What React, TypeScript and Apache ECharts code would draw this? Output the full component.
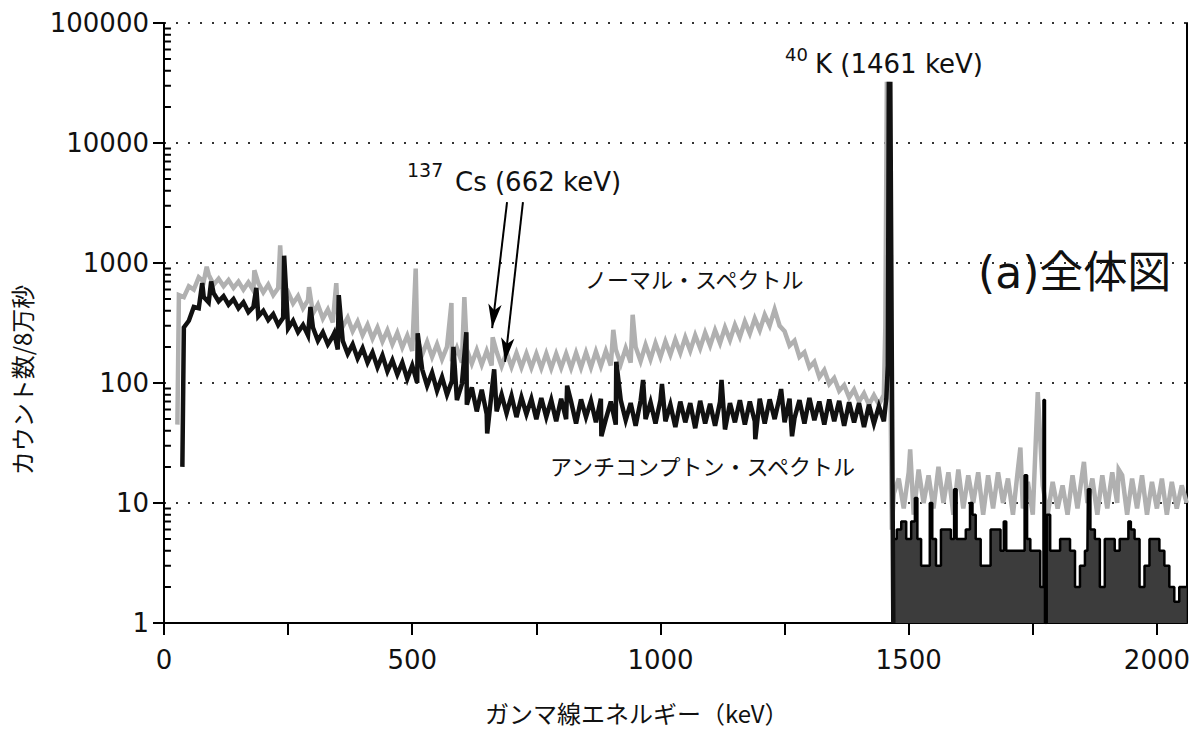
import React, { useEffect, useRef } from "react";
import * as echarts from "echarts";

type P = [number, number];

// ---- Normal spectrum (gray) ----
const normalLow: P[] = [
  [27, 45], [30, 540], [40, 520], [50, 640], [60, 600], [70, 760], [80, 700], [90, 800], [100, 660], [110, 740],
  [120, 640], [130, 720], [140, 620], [150, 700], [160, 600], [170, 690], [180, 590], [190, 680], [200, 570],
  [210, 660], [220, 540], [230, 620], [240, 500], [250, 570], [260, 460], [270, 530], [280, 420], [290, 490],
  [300, 380], [310, 450], [320, 345], [330, 410], [340, 320], [350, 385], [360, 295], [370, 350], [380, 270],
  [390, 325], [400, 250], [410, 305], [420, 235], [430, 290], [440, 222], [450, 275], [460, 210], [470, 262],
  [480, 198], [490, 248], [500, 185], [510, 235], [520, 172], [530, 220], [540, 165], [550, 210], [560, 158],
  [570, 200], [580, 152], [590, 195], [600, 148], [610, 190], [620, 145], [630, 188], [640, 142], [650, 185],
  [660, 140], [670, 182], [680, 138], [690, 180], [700, 136], [710, 178], [720, 135], [730, 176], [740, 134],
  [750, 175], [760, 133], [770, 176], [780, 132], [790, 175], [800, 134], [810, 176], [820, 133], [830, 178],
  [840, 134], [850, 180], [860, 135], [870, 183], [880, 138], [890, 185], [900, 140], [910, 190], [920, 144],
  [930, 195], [940, 148], [950, 200], [960, 152], [970, 208], [980, 158], [990, 215], [1000, 165], [1010, 222],
  [1020, 172], [1030, 230], [1040, 178], [1050, 240], [1060, 186], [1070, 250], [1080, 195], [1090, 262],
  [1100, 205], [1110, 275], [1120, 215], [1130, 290], [1140, 228], [1150, 305], [1160, 242], [1170, 325],
  [1180, 258], [1190, 345], [1200, 275], [1210, 370], [1220, 300], [1230, 410], [1240, 300], [1250, 270],
  [1260, 205], [1270, 225], [1280, 165], [1290, 180], [1300, 135], [1310, 150], [1320, 112], [1330, 128],
  [1340, 98], [1350, 110], [1360, 86], [1370, 96], [1380, 76], [1390, 88], [1400, 70], [1410, 82], [1420, 66],
  [1430, 79], [1440, 66], [1450, 80],
];
const normalPeaks: P[] = [
  [86, 930], [182, 870], [234, 1400], [292, 630], [347, 680], [507, 900], [579, 465], [605, 520], [662, 240],
  [905, 277], [944, 370],
];
const normalK40: P[] = [[1453, 300], [1456, 31000], [1459, 31000], [1462, 400], [1466, 6], [1470, 12]];
const normalHigh: P[] = [
  [1480, 16], [1490, 9], [1500, 18], [1510, 8], [1520, 19], [1530, 10], [1540, 17], [1550, 9], [1560, 20],
  [1570, 10], [1580, 18], [1590, 8], [1600, 19], [1610, 9], [1620, 17], [1630, 10], [1640, 18], [1650, 8],
  [1660, 17], [1670, 9], [1680, 18], [1690, 10], [1700, 16], [1710, 8], [1720, 19], [1730, 9], [1740, 15],
  [1750, 8], [1770, 14], [1780, 8], [1790, 15], [1800, 9], [1810, 14], [1820, 8], [1830, 17], [1840, 9],
  [1850, 18], [1860, 10], [1870, 16], [1880, 8], [1890, 17], [1900, 9], [1910, 18], [1920, 10], [1930, 17],
  [1940, 8], [1950, 16], [1960, 9], [1970, 17], [1980, 8], [1990, 15], [2000, 9], [2010, 16], [2020, 8],
  [2030, 15], [2040, 9], [2050, 14], [2060, 10],
];
const normalHighPeaks: P[] = [[1503, 28], [1725, 29], [1760, 84], [1853, 22], [1923, 19]];

// ---- Anti-Compton spectrum (black) ----
const comptonLow: P[] = [
  [37, 20], [40, 290], [50, 330], [60, 430], [70, 420], [80, 520], [90, 470], [100, 560], [110, 480], [120, 530],
  [130, 450], [140, 500], [150, 420], [160, 470], [170, 390], [180, 430], [190, 360], [200, 400], [210, 335],
  [220, 375], [230, 305], [240, 350], [250, 285], [260, 330], [270, 265], [280, 305], [290, 250], [300, 290],
  [310, 225], [320, 265], [330, 210], [340, 245], [350, 190], [360, 225], [370, 175], [380, 210], [390, 160],
  [400, 195], [410, 148], [420, 180], [430, 135], [440, 170], [450, 125], [460, 155], [470, 118], [480, 148],
  [490, 108], [500, 140], [510, 100], [520, 130], [530, 95], [540, 122], [550, 86], [560, 112], [570, 80],
  [580, 104], [590, 72], [600, 98], [610, 66], [620, 92], [630, 58], [640, 88], [650, 55], [660, 84], [670, 58],
  [680, 80], [690, 56], [700, 78], [710, 52], [720, 76], [730, 55], [740, 74], [750, 50], [760, 75], [770, 52],
  [780, 72], [790, 48], [800, 74], [810, 50], [820, 70], [830, 46], [840, 73], [850, 52], [860, 71], [870, 47],
  [880, 74], [890, 50], [900, 70], [910, 45], [920, 72], [930, 49], [940, 68], [950, 44], [960, 71], [970, 50],
  [980, 69], [990, 46], [1000, 72], [1010, 48], [1020, 66], [1030, 43], [1040, 70], [1050, 47], [1060, 68],
  [1070, 42], [1080, 71], [1090, 46], [1100, 67], [1110, 44], [1120, 70], [1130, 41], [1140, 68], [1150, 47],
  [1160, 72], [1170, 45], [1180, 70], [1190, 48], [1200, 74], [1210, 46], [1220, 73], [1230, 50], [1240, 76],
  [1250, 47], [1260, 74], [1270, 51], [1280, 72], [1290, 46], [1300, 75], [1310, 49], [1320, 70], [1330, 45],
  [1340, 73], [1350, 48], [1360, 71], [1370, 44], [1380, 69], [1390, 47], [1400, 68], [1410, 43], [1420, 66],
  [1430, 46], [1440, 64], [1450, 48],
];
const comptonPeaks: P[] = [
  [77, 680], [95, 700], [186, 620], [242, 1150], [295, 430], [343, 260], [352, 540], [511, 260], [583, 200],
  [609, 265], [665, 130], [812, 95], [911, 150], [965, 106], [1003, 98], [1123, 106], [1243, 89],
];
const comptonDips: P[] = [[651, 38], [881, 36], [1191, 34], [1265, 36]];
const comptonK40: P[] = [[1455, 75], [1458, 140], [1460, 31000], [1463, 31000], [1466, 160], [1469, 1]];
const comptonHigh: P[] = [
  [1472, 5], [1480, 6], [1490, 7], [1500, 5], [1510, 7], [1520, 5], [1530, 3], [1540, 3], [1550, 5], [1560, 3],
  [1570, 6], [1580, 6], [1590, 5], [1600, 5], [1610, 5], [1620, 6], [1630, 8], [1640, 5], [1650, 3], [1660, 3],
  [1670, 6], [1680, 6], [1690, 4], [1700, 4], [1710, 4], [1720, 4], [1730, 4], [1740, 5], [1750, 4], [1760, 4],
  [1770, 2], [1780, 8], [1790, 4], [1800, 4], [1810, 5], [1820, 5], [1830, 4], [1840, 2], [1850, 3], [1860, 4],
  [1870, 6], [1880, 5], [1890, 2], [1900, 5], [1910, 5], [1920, 4], [1930, 5], [1940, 5], [1950, 6], [1960, 5],
  [1970, 2], [1980, 3], [1990, 5], [2000, 5], [2010, 4], [2020, 3], [2030, 2], [2040, 1.5], [2050, 2], [2060, 2],
];
const comptonHighPeaks: P[] = [
  [1515, 11], [1545, 10], [1593, 13], [1627, 10], [1693, 7], [1737, 17], [1773, 72], [1776, 1], [1862, 13],
  [1945, 7],
];

// Arrow annotation for 137Cs (from, to) in data coordinates
const csArrows: [P, P][] = [
  [[691, 3220], [661, 287]],
  [[723, 3220], [687, 150]],
];

const decades = [1, 10, 100, 1000, 10000];
const minorMultipliers = [2, 3, 4, 5, 6, 7, 8, 9];

const merge = (...lists: P[][]): P[] => lists.flat().slice().sort((a, b) => a[0] - b[0]);

const LATIN = "'DejaVu Sans', 'Noto Sans CJK JP', sans-serif";
const CJK = "'Noto Sans CJK JP', 'DejaVu Sans', sans-serif";

const textElements: any[] = [
  { type: "text", x: 785, y: 54, style: { text: "40", font: `18px ${LATIN}`, fill: "#111", textVerticalAlign: "middle" } },
  { type: "text", x: 815, y: 64, style: { text: "K (1461 keV)", font: `26px ${LATIN}`, fill: "#111", textVerticalAlign: "middle" } },
  { type: "text", x: 407, y: 170, style: { text: "137", font: `19px ${LATIN}`, fill: "#111", textVerticalAlign: "middle" } },
  { type: "text", x: 455, y: 182, style: { text: "Cs (662 keV)", font: `26px ${LATIN}`, fill: "#111", textVerticalAlign: "middle" } },
  { type: "text", x: 585, y: 278, style: { text: "ノーマル・スペクトル", font: `22px ${CJK}`, fill: "#111", textVerticalAlign: "middle" } },
  { type: "text", x: 550, y: 465, style: { text: "アンチコンプトン・スペクトル", font: `22px ${CJK}`, fill: "#111", textVerticalAlign: "middle" } },
  { type: "text", x: 978, y: 272, style: { text: "(a)全体図", font: `44px ${LATIN}`, fill: "#111", textVerticalAlign: "middle" } },
  { type: "text", x: 485, y: 712, style: { text: "ガンマ線エネルギー（keV）", font: `24px ${CJK}`, fill: "#111", textVerticalAlign: "middle" } },
  {
    type: "text",
    x: 21,
    y: 380,
    rotation: Math.PI / 2,
    style: { text: "カウント数/8万秒", font: `24px ${CJK}`, fill: "#111", textAlign: "center", textVerticalAlign: "middle" },
  },
];

export default function App() {
  const ref = useRef<HTMLDivElement>(null);

  useEffect(() => {
    if (!ref.current) return;
    const chart = echarts.init(ref.current, undefined, { renderer: "svg" });

    // short horizontal segments at 2..9 x 10^k, separated by gaps
    const minorTickSegments: any[] = [];
    decades.forEach((d) =>
      minorMultipliers.forEach((m) => {
        minorTickSegments.push([0, d * m], [14, d * m], "-");
      })
    );

    const option: any = {
      animation: false,
      backgroundColor: "#ffffff",
      grid: { left: 164, right: 1, top: 23, bottom: 107, containLabel: false },
      xAxis: {
        type: "value",
        min: 0,
        max: 2060,
        interval: 250,
        axisLine: { show: true, onZero: false, lineStyle: { color: "#000", width: 2 } },
        axisTick: { show: true, inside: false, length: 12, lineStyle: { color: "#000", width: 2 } },
        axisLabel: {
          formatter: (v: number) => (v % 500 === 0 ? String(v) : ""),
          fontSize: 26,
          fontFamily: LATIN,
          color: "#111",
          margin: 24,
          showMaxLabel: false,
        },
        splitLine: { show: false },
      },
      yAxis: [
        {
          type: "log",
          logBase: 10,
          min: 1,
          max: 100000,
          axisLine: { show: true, onZero: false, lineStyle: { color: "#000", width: 2 } },
          axisTick: { show: true, length: 11, lineStyle: { color: "#000", width: 2 } },
          axisLabel: {
            formatter: (v: number) => String(Math.round(v)),
            fontSize: 26,
            fontFamily: LATIN,
            color: "#111",
            margin: 15,
          },
          splitLine: { show: true, lineStyle: { color: "#333", width: 2, type: [2, 10] } },
        },
        {
          type: "log",
          logBase: 10,
          min: 1,
          max: 100000,
          position: "right",
          axisLine: { show: true, onZero: false, lineStyle: { color: "#000", width: 2 } },
          axisTick: { show: false },
          axisLabel: { show: false },
          splitLine: { show: false },
        },
      ],
      series: [
        {
          name: "ノーマル・スペクトル",
          type: "line",
          data: merge(normalLow, normalPeaks, normalK40, normalHigh, normalHighPeaks),
          symbol: "none",
          z: 2,
          lineStyle: { color: "#b0b0b0", width: 4.5, join: "miter" },
          silent: true,
        },
        {
          name: "アンチコンプトン・スペクトル",
          type: "line",
          data: merge(comptonLow, comptonPeaks, comptonDips, comptonK40),
          symbol: "none",
          z: 3,
          lineStyle: { color: "#111", width: 4.5, join: "miter" },
          silent: true,
          markLine: {
            silent: true,
            symbol: ["none", "arrow"],
            symbolSize: [10, 24],
            lineStyle: { color: "#000", width: 2, type: "solid" },
            label: { show: false },
            data: csArrows.map(([a, b]) => [{ coord: a }, { coord: b }]),
          },
        },
        {
          name: "アンチコンプトン高エネルギー",
          type: "line",
          step: "middle",
          data: merge(comptonHigh, comptonHighPeaks),
          symbol: "none",
          z: 3,
          lineStyle: { color: "#000", width: 2.5 },
          areaStyle: { color: "#3c3c3c", opacity: 1, origin: "start" },
          silent: true,
        },
        {
          name: "minor ticks",
          type: "line",
          data: minorTickSegments,
          connectNulls: false,
          symbol: "none",
          z: 10,
          clip: false,
          lineStyle: { color: "#000", width: 2 },
          silent: true,
        },
      ],
      graphic: { elements: textElements },
    };

    chart.setOption(option);
    return () => chart.dispose();
  }, []);

  return (
    <div
      ref={ref}
      style={{ position: "fixed", left: 0, top: 0, width: 1193, height: 730, background: "#fff" }}
    />
  );
}
